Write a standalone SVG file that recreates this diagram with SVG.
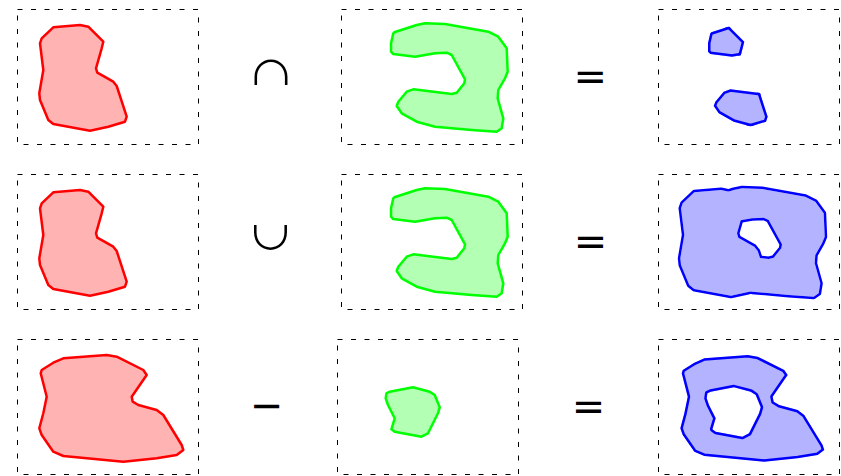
<svg xmlns="http://www.w3.org/2000/svg" xmlns:xlink="http://www.w3.org/1999/xlink" width="841" height="476" viewBox="0 0 841 476">
<style>
.box{fill:none;stroke:#000;stroke-width:1;stroke-dasharray:5 8.5}
.red{fill:#ffb3b3;stroke:#ff0000;stroke-width:2.5;stroke-linejoin:round}
.green{fill:#b3ffb3;stroke:#00ff00;stroke-width:2.5;stroke-linejoin:round}
.bfill{fill:#b3b3ff;stroke:none}
.bline{fill:none;stroke:#0000ff;stroke-width:5;stroke-linejoin:round}
.op{font-family:"DejaVu Sans",sans-serif;font-size:40px;fill:#000;text-anchor:middle}
.set{font-family:"Noto Sans CJK JP","DejaVu Sans",sans-serif;font-size:51px;font-weight:300;fill:#000;text-anchor:middle}
</style>
<defs>
<polygon id="R" points="23.7,29.3 35.3,18.3 62,16 70.3,17.7 85.3,32.7 83.7,39.3 78,59.3 79.3,63.7 95.3,72.7 98.7,77 108.7,107.7 107,112.7 90.3,117.7 72,121.7 35.3,115 30.3,111 22,91 21.3,84.3 25.3,61 22,34.3"/>
<polygon id="G" points="51.3,24.3 52.3,23.3 74.7,16 83,14.3 103,15 146.3,22.7 156.3,27.7 164.7,39.3 165.7,62.7 163,69.3 156.3,81 155.7,89.3 161.3,109.3 159.7,119.3 154.7,122.7 129.7,121 93,117.7 74.7,112.7 59.7,104.3 54.7,97 56.3,92.7 64.7,82.7 71.3,80.3 109.7,85 114.7,83.7 122.3,74.3 123,70.3 109.7,46 104.7,43.7 93,44.3 73,47.7 51.3,45 49,42.7 49,34.3"/>
<polygon id="R3" points="23.7,31 35.3,23.7 45.3,19.3 88.7,16 98.7,17.7 125.3,31 128.7,36 113.7,57.7 114.7,62.7 120.3,66 138.7,71 145.3,76 163.7,106 165.3,111 158.7,116 138.7,119.3 105.3,122.7 45.3,117 35.3,112.7 23.7,96 21.3,89.3 25.3,74.3 28.7,57.7 22.7,34.3"/>
<polygon id="G3" points="48.4,54.3 51.7,52.7 75,48.3 91.7,52.7 96.7,56 101.7,68.3 100,74.3 90,94.3 83.4,97.7 56.7,92.7 53.4,90.3 56.7,79.3 50,66 47.7,59.3"/>
<clipPath id="clipR"><use xlink:href="#R"/></clipPath>
<clipPath id="clipG"><use xlink:href="#G"/></clipPath>
<clipPath id="clipCap"><rect x="240" y="45" width="62" height="40"/></clipPath>
<clipPath id="clipCup"><rect x="240" y="225" width="62" height="40"/></clipPath>
<mask id="maskU" maskUnits="userSpaceOnUse" x="-20" y="-20" width="230" height="180">
<rect x="-20" y="-20" width="230" height="180" fill="#fff"/>
<use xlink:href="#R" fill="#000"/>
<use xlink:href="#G" fill="#000"/>
</mask>
<mask id="maskD" maskUnits="userSpaceOnUse" x="-20" y="-20" width="230" height="180">
<use xlink:href="#R3" fill="#fff"/>
<use xlink:href="#G3" fill="#000"/>
</mask>
</defs>

<g id="row1-left" transform="translate(18,9)">
<rect class="box" x="-0.5" y="0.5" width="181" height="135"/>
<use xlink:href="#R" class="red"/>
</g>
<g id="row1-op" clip-path="url(#clipCap)"><text class="set" x="271" y="98">∩</text></g>
<g id="row1-right" transform="translate(342,9)">
<rect class="box" x="-0.5" y="0.5" width="181" height="135"/>
<use xlink:href="#G" class="green"/>
</g>
<g id="row1-eq"><text class="op" x="590.2" y="89.5">=</text></g>
<g id="row1-result" transform="translate(659,9)">
<rect class="box" x="-0.5" y="0.5" width="181" height="135"/>
<g clip-path="url(#clipR)"><use xlink:href="#G" class="bfill"/></g>
<g clip-path="url(#clipR)"><g clip-path="url(#clipG)"><use xlink:href="#R" class="bline"/><use xlink:href="#G" class="bline"/></g></g>
</g>

<g id="row2-left" transform="translate(18,174)">
<rect class="box" x="-0.5" y="0.5" width="181" height="135"/>
<use xlink:href="#R" class="red"/>
</g>
<g id="row2-op" clip-path="url(#clipCup)"><text class="set" x="270.5" y="249.5">∪</text></g>
<g id="row2-right" transform="translate(342,174)">
<rect class="box" x="-0.5" y="0.5" width="181" height="135"/>
<use xlink:href="#G" class="green"/>
</g>
<g id="row2-eq"><text class="op" x="590.5" y="254.5">=</text></g>
<g id="row2-result" transform="translate(659,174)">
<rect class="box" x="-0.5" y="0.5" width="181" height="135"/>
<use xlink:href="#R" class="bfill"/><use xlink:href="#G" class="bfill"/>
<g mask="url(#maskU)"><use xlink:href="#R" class="bline"/><use xlink:href="#G" class="bline"/></g>
</g>

<g id="row3-left" transform="translate(18,339)">
<rect class="box" x="-0.5" y="0.5" width="181" height="135"/>
<use xlink:href="#R3" class="red"/>
</g>
<g id="row3-op"><text class="op" x="266.7" y="418.5">−</text></g>
<g id="row3-right" transform="translate(338,339)">
<rect class="box" x="-0.5" y="0.5" width="181" height="135"/>
<use xlink:href="#G3" class="green"/>
</g>
<g id="row3-eq"><text class="op" x="588.5" y="419.5">=</text></g>
<g id="row3-result" transform="translate(659,339)">
<rect class="box" x="-0.5" y="0.5" width="181" height="135"/>
<use xlink:href="#R3" class="bfill" mask="url(#maskD)"/>
<g mask="url(#maskD)"><use xlink:href="#R3" class="bline"/><use xlink:href="#G3" class="bline"/></g>
</g>
</svg>
